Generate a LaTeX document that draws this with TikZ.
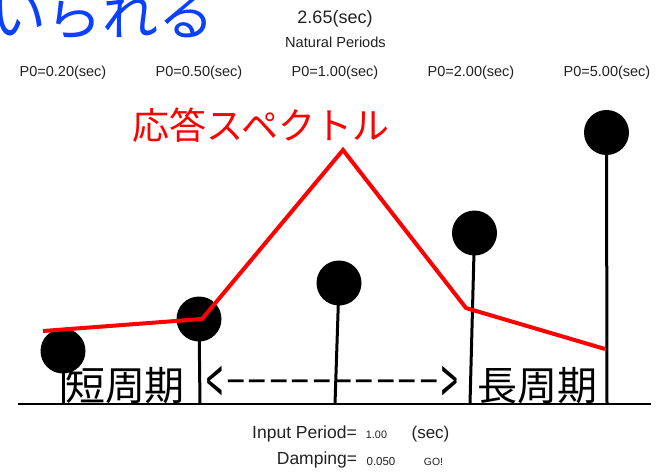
\documentclass[tikz,border=0pt]{standalone}
\usepackage{fontspec}
\usepackage{graphicx}
\setmainfont{Liberation Sans}
\newfontfamily\jp{Noto Sans CJK JP}
\definecolor{txt}{RGB}{34,34,34}
\definecolor{jblue}{RGB}{10,64,255}
\definecolor{specred}{RGB}{255,0,0}
\tikzset{
  lbl/.style={inner sep=0pt, anchor=base, text=txt},
  ball/.style={circle, fill=black, inner sep=0pt, minimum size=45pt},
  stem/.style={line width=3pt, black},
  ground/.style={line width=2pt, black},
  spec/.style={line width=4pt, specred},
  jtext/.style={inner sep=0pt, font=\jp\fontsize{40}{44}\selectfont, text=black},
}
\begin{document}
\begin{tikzpicture}[x=1pt,y=-1pt]
\fill[white] (0,0) rectangle (665,472);
\useasboundingbox (0,0) rectangle (665,472);

% blue caption, cut by the page edge
\node[inner sep=0pt, anchor=base east, text=jblue, font=\jp\fontsize{56}{60}\selectfont] (blue) at (215,35) {いられる};

% header texts
\node[lbl, font=\fontsize{18}{20}\selectfont] (period) at (335,23) {2.65(sec)};
\node[lbl, font=\fontsize{14.6}{16}\selectfont] (natural) at (335.5,47.5) {Natural Periods};
\foreach \i/\x/\v in {1/63/0.20,2/199/0.50,3/335/1.00,4/471/2.00,5/607/5.00}{
  \node[lbl, font=\fontsize{14.5}{16}\selectfont] (p\i) at (\x,76) {P0=\v(sec)};
}

% ground
\coordinate (gl) at (18,404);
\coordinate (gr) at (651,404);
\draw[ground] (gl) -- (gr);

% feet of the stems
\coordinate (f1) at (63,404);
\coordinate (f2) at (200,404);
\coordinate (f3) at (335,404);
\coordinate (f4) at (470,404);
\coordinate (f5) at (607,404);

% balls
\node[ball] (b1) at (63,351) {};
\node[ball] (b2) at (199,319) {};
\node[ball] (b3) at (339,283) {};
\node[ball] (b4) at (474.5,233) {};
\node[ball] (b5) at (606.5,132.5) {};
\foreach \i in {1,...,5}{ \draw[stem] (b\i.center) -- (f\i); }

% bottom labels
\node[jtext] (short) at (125,385.5) {短周期};
\node[jtext] (long) at (537,385.5) {長周期};
\node[inner sep=0pt, font=\jp\fontsize{40}{44}\selectfont] (lt) at (215,386) {\scalebox{0.75}[1.65]{<}};
\node[inner sep=0pt, font=\jp\fontsize{40}{44}\selectfont] (gt) at (450,386) {\scalebox{0.75}[1.65]{>}};
\node[inner sep=0pt, font=\jp\fontsize{40}{44}\selectfont] (dash) at (332.5,386) {\resizebox{214pt}{\height}{-{}-{}-{}-{}-{}-{}-{}-{}-{}-}};

% response spectrum
\coordinate (r1) at (43,331);
\coordinate (r2) at (202,319);
\coordinate (r3) at (343,150);
\coordinate (r4) at (466,308);
\coordinate (r5) at (605,349);
\draw[spec] (r1) -- (r2) -- (r3) -- (r4) -- (r5);
\node[inner sep=0pt, text=specred, font=\jp\fontsize{37}{40}\selectfont] (spectitle) at (261,125) {応答スペクトル};

% input fields
\node[lbl, font=\fontsize{17.5}{20}\selectfont] (inp) at (304.5,438.5) {Input Period=};
\node[lbl, font=\fontsize{10.8}{12}\selectfont] (inpv) at (376.5,438.5) {1.00};
\node[lbl, font=\fontsize{17}{20}\selectfont] (sec) at (430.5,438.5) {(sec)};
\node[lbl, font=\fontsize{17.5}{20}\selectfont] (damp) at (317,464.5) {Damping=};
\node[lbl, font=\fontsize{11.5}{13}\selectfont] (dampv) at (381,465) {0.050};
\node[lbl, font=\fontsize{10.4}{12}\selectfont] (go) at (433.5,465) {GO!};
\end{tikzpicture}
\end{document}
